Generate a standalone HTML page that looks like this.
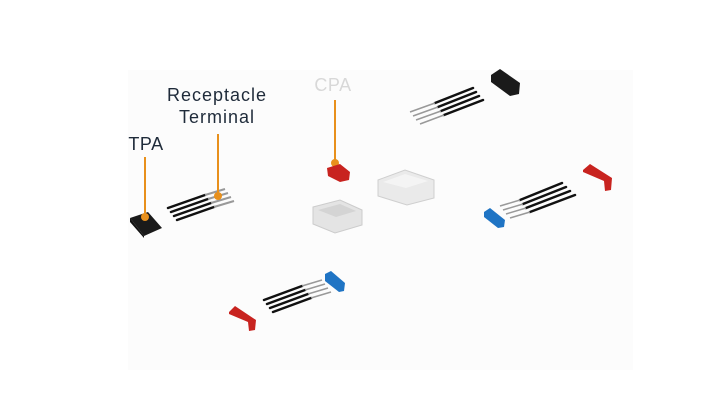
<!DOCTYPE html>
<html><head><style>
html,body{margin:0;padding:0;background:#fff;width:720px;height:404px;overflow:hidden}
svg{display:block}
text{font-family:"Liberation Sans",sans-serif}
</style></head><body>
<svg width="720" height="404" viewBox="0 0 720 404">
<rect width="720" height="404" fill="#ffffff"/>
<rect x="128" y="70" width="505" height="300" fill="#fcfcfc"/>
<!-- labels -->
<text x="217" y="101" font-size="18" letter-spacing="1" fill="#1f2b3a" text-anchor="middle">Receptacle</text>
<text x="217" y="123" font-size="18" letter-spacing="1" fill="#1f2b3a" text-anchor="middle">Terminal</text>
<text x="146" y="150" font-size="18" letter-spacing="0.5" fill="#1f2b3a" text-anchor="middle">TPA</text>
<text x="333" y="91" font-size="18" letter-spacing="0.5" fill="#d8d8d8" text-anchor="middle">CPA</text>
<!-- TPA black block left -->
<polygon points="130,218 148,212 162,228 144,236" fill="#1a1a1a"/>
<polygon points="130,218 144,236 144,238 130,222" fill="#111"/>
<!-- wires left -->
<g stroke="#111" stroke-width="2.5" stroke-linecap="round">
<line x1="168" y1="208" x2="205" y2="195"/>
<line x1="171" y1="212" x2="208" y2="199"/>
<line x1="174" y1="216" x2="211" y2="203"/>
<line x1="177" y1="220" x2="214" y2="207"/>
</g>
<g stroke="#999" stroke-width="2">
<line x1="205" y1="195" x2="225" y2="189"/>
<line x1="208" y1="199" x2="228" y2="193"/>
<line x1="211" y1="203" x2="231" y2="197"/>
<line x1="214" y1="207" x2="234" y2="201"/>
</g>
<!-- orange pointers -->
<g stroke="#e8901c" stroke-width="2">
<line x1="145" y1="157" x2="145" y2="217"/>
<line x1="218" y1="134" x2="218" y2="197"/>
<line x1="335" y1="100" x2="335" y2="163"/>
</g>
<circle cx="145" cy="217" r="4" fill="#e8901c"/>
<circle cx="218" cy="196" r="4" fill="#e8901c"/>
<circle cx="335" cy="163" r="4" fill="#e8901c"/>
<!-- CPA red -->
<polygon points="327,168 340,164 350,172 349,180 340,182 328,176" fill="#c8231f"/>
<!-- white housings -->
<polygon points="313,207 340,200 362,210 362,225 335,233 313,224" fill="#e4e4e4" stroke="#cccccc"/>
<polygon points="318,210 340,204 356,211 336,217" fill="#d4d4d4"/>
<polygon points="378,180 405,170 434,180 434,198 407,205 378,196" fill="#eaeaea" stroke="#cfcfcf"/>
<polygon points="383,182 405,174 428,181 406,188" fill="#f4f4f4"/>
<!-- top right wires -->
<g stroke="#111" stroke-width="2.5" stroke-linecap="round">
<line x1="435" y1="103" x2="473" y2="88"/>
<line x1="438" y1="107" x2="476" y2="92"/>
<line x1="441" y1="111" x2="479" y2="96"/>
<line x1="444" y1="115" x2="483" y2="100"/>
</g>
<g stroke="#999" stroke-width="1.5">
<line x1="410" y1="112" x2="435" y2="103"/>
<line x1="413" y1="116" x2="438" y2="107"/>
<line x1="416" y1="120" x2="441" y2="111"/>
<line x1="420" y1="124" x2="444" y2="115"/>
</g>
<polygon points="491,75 500,69 520,83 519,94 510,96 491,82" fill="#1a1a1a"/>
<!-- right red bracket -->
<polygon points="583,170 590,164 612,178 611,190 605,191 604,181 583,172" fill="#c8231f"/>
<!-- right wires + blue -->
<g stroke="#111" stroke-width="2.5" stroke-linecap="round">
<line x1="520" y1="200" x2="562" y2="183"/>
<line x1="523" y1="204" x2="566" y2="187"/>
<line x1="526" y1="208" x2="570" y2="191"/>
<line x1="530" y1="212" x2="575" y2="195"/>
</g>
<g stroke="#999" stroke-width="1.5">
<line x1="500" y1="206" x2="520" y2="200"/>
<line x1="503" y1="210" x2="523" y2="204"/>
<line x1="506" y1="214" x2="526" y2="208"/>
<line x1="510" y1="218" x2="530" y2="212"/>
</g>
<polygon points="484,212 490,208 505,220 504,227 498,228 484,217" fill="#1f74c4"/>
<!-- bottom left -->
<polygon points="229,312 235,306 256,320 255,330 249,331 248,322 229,314" fill="#c8231f"/>
<g stroke="#111" stroke-width="2.5" stroke-linecap="round">
<line x1="264" y1="300" x2="302" y2="286"/>
<line x1="267" y1="304" x2="305" y2="290"/>
<line x1="270" y1="308" x2="308" y2="294"/>
<line x1="273" y1="312" x2="311" y2="298"/>
</g>
<g stroke="#999" stroke-width="1.5">
<line x1="302" y1="286" x2="322" y2="280"/>
<line x1="305" y1="290" x2="325" y2="284"/>
<line x1="308" y1="294" x2="328" y2="288"/>
<line x1="311" y1="298" x2="331" y2="292"/>
</g>
<polygon points="325,274 331,271 345,283 344,291 339,292 325,281" fill="#1f74c4"/>
</svg>
</body></html>
